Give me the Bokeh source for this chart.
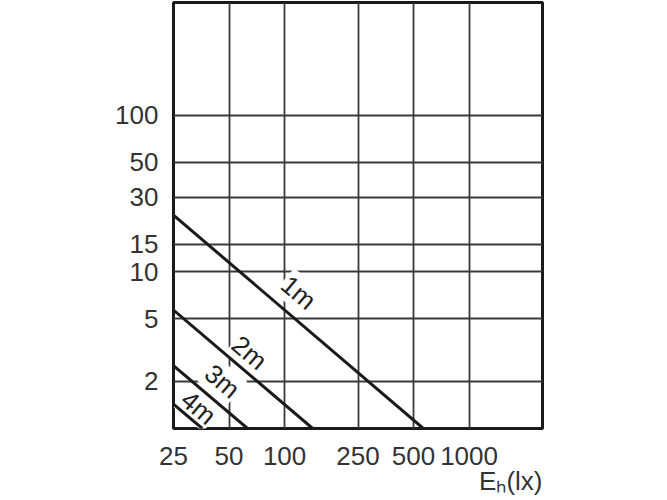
from bokeh.plotting import figure
from bokeh.models import FixedTicker, Title
from bokeh.core.properties import value
from bokeh.embed import file_html
from bokeh.resources import INLINE

# Data
x_ticks = [25, 50, 100, 250, 500, 1000]
y_ticks = [2, 5, 10, 15, 30, 50, 100]
series_names = ["1m", "2m", "3m", "4m"]
series_x = [[25, 565], [25, 142], [25, 63], [25, 35.8]]
series_y = [[23.0, 1.0], [5.7, 1.0], [2.52, 1.0], [1.43, 1.0]]
label_x = [119, 64.5, 46, 34.2]
label_y = [7.38, 3.05, 2.0, 1.36]
x_title = "E\u2095(lx)"

FONT = "Liberation Sans"
TXT = "#333333"

p = figure(width=640, height=498, x_axis_type="log", y_axis_type="log",
           x_range=(25, 2500), y_range=(1, 523),
           output_backend="svg", toolbar_location=None,
           min_border_left=173, min_border_right=98, min_border_top=2, min_border_bottom=70)

p.outline_line_color = "#1a1a1a"
p.outline_line_width = 3
p.background_fill_color = "white"
p.border_fill_color = "white"

for ax in (p.xaxis, p.yaxis):
    ax.axis_line_color = None
    ax.major_tick_line_color = None
    ax.minor_tick_line_color = None
    ax.major_label_text_font = FONT
    ax.major_label_text_font_size = "26px"
    ax.major_label_text_color = TXT

p.xaxis.ticker = FixedTicker(ticks=x_ticks)
p.yaxis.ticker = FixedTicker(ticks=y_ticks)
p.xaxis.major_label_overrides = {t: str(t) for t in x_ticks}
p.yaxis.major_label_overrides = {t: str(t) for t in y_ticks}
p.xaxis.major_label_standoff = 12
p.yaxis.major_label_standoff = 9

p.add_layout(Title(text=x_title, align="right", text_font=FONT, text_font_size="26px",
                   text_font_style="normal", text_color=TXT, standoff=-8, offset=0),
             "below")

p.xgrid.ticker = FixedTicker(ticks=x_ticks)
p.ygrid.ticker = FixedTicker(ticks=y_ticks)
for g in (p.xgrid, p.ygrid):
    g.grid_line_color = "#3a3a3a"
    g.grid_line_width = 1.8
    g.minor_grid_line_color = None

# labels with white background (drawn first so lines lie above)
p.text(x=label_x, y=label_y, text=series_names, angle=-0.703,
       text_font=value(FONT), text_font_size="26px", text_color="#222222",
       text_align="center", text_baseline="middle",
       background_fill_color="white", padding=1)

for xs, ys in zip(series_x, series_y):
    p.line(xs, ys, line_color="#1a1a1a", line_width=3)

open("out.html", "w").write(file_html(p, INLINE))
